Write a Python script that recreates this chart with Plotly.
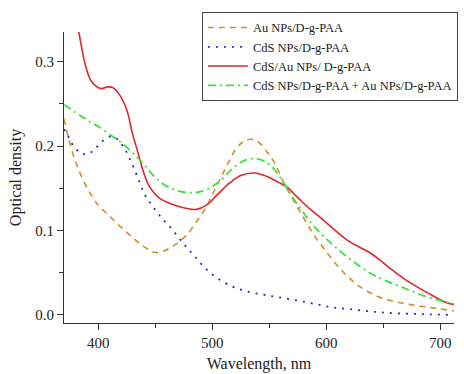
import plotly.graph_objects as go

au_x = [370, 375, 380, 386, 393, 400, 410, 420, 430, 440, 450, 458, 466, 477, 486, 494, 501, 508, 514, 520, 527, 534, 541, 548, 555, 563, 572, 581, 590, 600, 610, 620, 630, 645, 660, 675, 690, 712]
au_y = [0.232, 0.204, 0.182, 0.162, 0.144, 0.130, 0.117, 0.104, 0.092, 0.081, 0.074, 0.076, 0.082, 0.094, 0.110, 0.126, 0.145, 0.164, 0.180, 0.195, 0.205, 0.208, 0.204, 0.193, 0.179, 0.156, 0.134, 0.113, 0.093, 0.075, 0.058, 0.044, 0.033, 0.022, 0.016, 0.012, 0.009, 0.005]

cds_x = [370, 373, 380, 385, 390, 396, 403, 410, 415, 423, 430, 436, 441, 447, 455, 465, 475, 483, 492, 503, 517, 530, 545, 558, 575, 590, 605, 620, 640, 660, 685, 712]
cds_y = [0.220, 0.213, 0.197, 0.192, 0.190, 0.195, 0.205, 0.211, 0.210, 0.197, 0.178, 0.158, 0.142, 0.130, 0.116, 0.101, 0.084, 0.072, 0.058, 0.045, 0.034, 0.028, 0.024, 0.021, 0.017, 0.013, 0.009, 0.007, 0.004, 0.002, 0.001, 0.000]

cdsau_x = [378, 383, 388, 393, 398, 403, 408, 413, 418, 425, 430, 436, 440, 445, 454, 465, 475, 486, 495, 505, 515, 525, 537, 548, 558, 565, 575, 586, 597, 607, 618, 628, 638, 648, 658, 668, 680, 692, 703, 712]
cdsau_y = [0.370, 0.335, 0.300, 0.279, 0.271, 0.268, 0.270, 0.269, 0.262, 0.243, 0.215, 0.187, 0.168, 0.152, 0.138, 0.131, 0.127, 0.125, 0.130, 0.143, 0.156, 0.165, 0.168, 0.164, 0.157, 0.152, 0.139, 0.125, 0.113, 0.101, 0.089, 0.081, 0.074, 0.064, 0.053, 0.043, 0.033, 0.024, 0.016, 0.012]

mix_x = [370, 380, 390, 400, 413, 422, 430, 439, 447, 454, 462, 470, 478, 486, 494, 500, 508, 515, 522, 530, 538, 546, 554, 562, 570, 578, 586, 594, 601, 610, 624, 638, 653, 668, 685, 700, 712]
mix_y = [0.249, 0.240, 0.231, 0.223, 0.211, 0.202, 0.192, 0.180, 0.167, 0.158, 0.151, 0.147, 0.145, 0.145, 0.148, 0.152, 0.160, 0.170, 0.178, 0.184, 0.185, 0.182, 0.173, 0.158, 0.140, 0.125, 0.110, 0.098, 0.089, 0.078, 0.063, 0.050, 0.040, 0.032, 0.023, 0.017, 0.013]

names = ["Au NPs/D-g-PAA", "CdS NPs/D-g-PAA", "CdS/Au NPs/ D-g-PAA", "CdS NPs/D-g-PAA + Au NPs/D-g-PAA"]

x_ticks = [400, 500, 600, 700]
y_ticks = [0.0, 0.1, 0.2, 0.3]

font = "Liberation Serif, Times New Roman, serif"

fig = go.Figure()
fig.add_trace(go.Scatter(x=au_x, y=au_y, mode="lines", name=names[0],
                         line=dict(color="#d18f2c", width=1.6, dash="6px,5px", shape="spline")))
fig.add_trace(go.Scatter(x=cds_x, y=cds_y, mode="lines", name=names[1],
                         line=dict(color="#2a2ac8", width=1.8, dash="2px,6px", shape="spline")))
fig.add_trace(go.Scatter(x=cdsau_x, y=cdsau_y, mode="lines", name=names[2],
                         line=dict(color="#e0262a", width=1.6, shape="spline")))
fig.add_trace(go.Scatter(x=mix_x, y=mix_y, mode="lines", name=names[3],
                         line=dict(color="#3fe03a", width=1.8, dash="8px,4px,2px,4px", shape="spline")))

fig.update_layout(
    width=464, height=374,
    margin=dict(l=64, r=6, t=32, b=51),
    paper_bgcolor="white", plot_bgcolor="white",
    font=dict(family=font, size=15, color="#222"),
    showlegend=True,
    legend=dict(x=1.01, y=1.069, xanchor="right", yanchor="top",
                bordercolor="#444", borderwidth=1, bgcolor="white",
                font=dict(family=font, size=12.5, color="#222"),
                tracegroupgap=0, itemwidth=40),
    xaxis=dict(range=[370, 712], tickvals=x_ticks, ticktext=[str(v) for v in x_ticks],
               showgrid=False, zeroline=False, showline=True, linecolor="#333", linewidth=1,
               ticks="outside", ticklen=6, tickcolor="#333", automargin=False,
               tickfont=dict(family=font, size=15),
               minor=dict(tickvals=[450, 550, 650], ticks="outside", ticklen=4, tickcolor="#333"),
               title=dict(text="Wavelength, nm", font=dict(family=font, size=16), standoff=7)),
    yaxis=dict(range=[-0.0095, 0.335], tickvals=y_ticks, ticktext=["0.0", "0.1", "0.2", "0.3"],
               showgrid=False, zeroline=False, showline=True, linecolor="#333", linewidth=1,
               ticks="outside", ticklen=6, tickcolor="#333", automargin=False,
               tickfont=dict(family=font, size=15),
               minor=dict(tickvals=[0.05, 0.15, 0.25], ticks="outside", ticklen=4, tickcolor="#333"),
               title=dict(text="Optical density", font=dict(family=font, size=16), standoff=9)),
)

fig.write_html("out.html")
